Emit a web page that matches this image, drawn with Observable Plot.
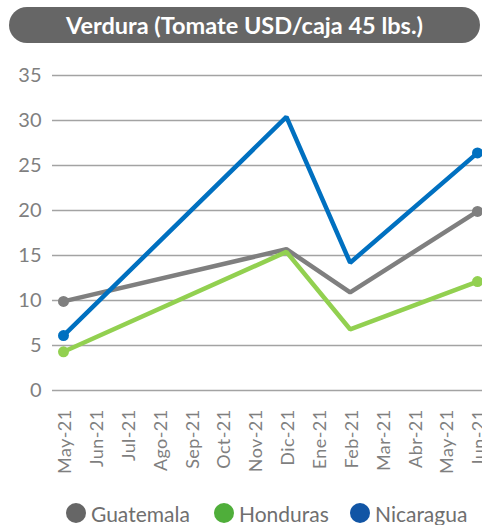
<!DOCTYPE html>
<html>
<head>
<meta charset="utf-8">
<script src="https://cdn.jsdelivr.net/npm/d3@7"></script>
<script src="https://cdn.jsdelivr.net/npm/@observablehq/plot@0.6"></script>
<style>
  html, body { margin: 0; padding: 0; background: #fff; }
  #wrap { position: relative; width: 482px; height: 525px; overflow: hidden; font-family: Lato, "Noto Sans", sans-serif; }
  #title { position: absolute; left: 9px; top: 7px; width: 471px; height: 36px; border-radius: 18px; background: #666666; color: #fff; font-weight: bold; font-size: 23.5px; line-height: 36px; text-align: center; }
  #chart { position: absolute; left: 0; top: 0; }
  .leg { position: absolute; top: 502px; height: 22px; display: flex; align-items: center; font-size: 21px; color: #6f6f6f; }
  .dot { width: 20px; height: 20px; border-radius: 50%; margin-right: 5px; }
  .xax text { letter-spacing: 0.4px; }
</style>
</head>
<body>
<div id="wrap">
  <div id="chart"></div>
  <div id="title">Verdura (Tomate USD/caja 45 lbs.)</div>
  <div id="legend"></div>
</div>
<script>
const months = ["May-21","Jun-21","Jul-21","Ago-21","Sep-21","Oct-21","Nov-21","Dic-21","Ene-21","Feb-21","Mar-21","Abr-21","May-21","Jun-21"];
const yTicks = [0, 5, 10, 15, 20, 25, 30, 35];
const countries = ["Guatemala", "Honduras", "Nicaragua"];
const lineColors = ["#7f7f7f", "#92d050", "#0070c0"];
const legendColors = ["#666666", "#4fae3a", "#1155a5"];
// values per month index (null = no data)
const guatemala = [9.9, null, null, null, null, null, null, 15.7, null, 10.9, null, null, null, 19.9];
const honduras  = [4.3, null, null, null, null, null, null, 15.4, null, 6.8, null, null, null, 12.1];
const nicaragua = [6.1, null, null, null, null, null, null, 30.4, null, 14.2, null, null, null, 26.4];

const seriesValues = [guatemala, honduras, nicaragua];
const data = [];
countries.forEach((c, k) => {
  seriesValues[k].forEach((v, i) => { if (v != null) data.push({s: c, i, v}); });
});
const endpoints = data.filter(d => d.i === 0 || d.i === months.length - 1);

const chart = Plot.plot({
  width: 482,
  height: 500,
  marginTop: 75,
  marginBottom: 110,
  marginLeft: 52,
  marginRight: 0,
  style: { fontFamily: "Lato, 'Noto Sans', sans-serif", background: "transparent", overflow: "visible" },
  x: { type: "linear", domain: [0, months.length - 1], insetLeft: 11, insetRight: 5 },
  y: { domain: [0, 35] },
  color: { domain: countries, range: lineColors },
  marks: [
    Plot.ruleY(yTicks, { stroke: "#a3a3a3", strokeWidth: 1.3 }),
    Plot.axisY({ ticks: yTicks, tickSize: 0, tickPadding: 11, fontSize: 20, fill: "#7f7f7f", label: null }),
    Plot.axisX({ ticks: d3.range(months.length), tickFormat: i => months[i], tickSize: 0, tickRotate: -90, tickPadding: 19, fontSize: 18, fill: "#7f7f7f", label: null, dx: 2, className: "xax" }),
    Plot.line(data, { x: "i", y: "v", z: "s", stroke: "s", strokeWidth: 4.5, strokeLinejoin: "miter" }),
    Plot.dot(endpoints, { x: "i", y: "v", fill: "s", r: 5.5 })
  ]
});
document.getElementById("chart").appendChild(chart);

const legendX = [66, 214, 350];
const legend = document.getElementById("legend");
countries.forEach((c, k) => {
  const item = document.createElement("div");
  item.className = "leg";
  item.style.left = legendX[k] + "px";
  item.innerHTML = `<div class="dot" style="background:${legendColors[k]}"></div><span>${c}</span>`;
  legend.appendChild(item);
});
</script>
</body>
</html>
